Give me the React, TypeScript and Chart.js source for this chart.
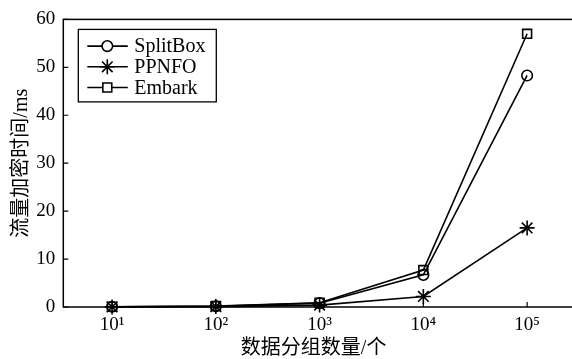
import React, { useEffect, useRef } from "react";
import { Chart, registerables } from "chart.js";

Chart.register(...registerables);

// x values are log10 of the number of data packets
const exponents = [1, 2, 3, 4, 5];
const tickLabels = ["10¹", "10²", "10³", "10⁴", "10⁵"];
const seriesNames = ["SplitBox", "PPNFO", "Embark"];
const splitBox = [0.05, 0.15, 0.8, 6.7, 48.3];
const ppnfo = [0.02, 0.08, 0.4, 2.2, 16.5];
const embark = [0.06, 0.2, 0.9, 7.7, 57.0];
const yTicks = [0, 10, 20, 30, 40, 50, 60];
const xTitle = "数据分组数量/个";
const yTitle = "流量加密时间/ms";

const SERIF = '"Liberation Serif", "Times New Roman", serif';
const CJK = '"Liberation Serif", "Noto Sans CJK SC", sans-serif';

const framePlugin = {
  id: "frame",
  beforeDatasetsDraw(chart: any) {
    const { ctx, chartArea } = chart;
    const { left, right, top, bottom } = chartArea;
    ctx.save();
    ctx.strokeStyle = "#000";
    ctx.lineWidth = 1.5;
    ctx.strokeRect(left, top, right - left, bottom - top);
    ctx.lineWidth = 1.2;
    const xs = chart.scales.x;
    const ys = chart.scales.y;
    ctx.beginPath();
    xs.ticks.forEach((t: any) => {
      const px = xs.getPixelForValue(t.value);
      ctx.moveTo(px, bottom);
      ctx.lineTo(px, bottom - 5);
    });
    ys.ticks.forEach((t: any) => {
      const py = ys.getPixelForValue(t.value);
      ctx.moveTo(left, py);
      ctx.lineTo(left + 5, py);
    });
    ctx.stroke();
    ctx.restore();
  },
};

function drawMarker(ctx: CanvasRenderingContext2D, style: string, r: number, x: number, y: number) {
  ctx.save();
  ctx.strokeStyle = "#000";
  ctx.lineWidth = 1.6;
  ctx.fillStyle = "#fff";
  ctx.beginPath();
  if (style === "circle") {
    ctx.arc(x, y, r, 0, Math.PI * 2);
    ctx.fill();
    ctx.stroke();
  } else if (style === "rect") {
    const s = Math.SQRT1_2 * r;
    ctx.rect(x - s, y - s, 2 * s, 2 * s);
    ctx.fill();
    ctx.stroke();
  } else {
    for (let k = 0; k < 4; k++) {
      const a = (k * Math.PI) / 4;
      ctx.moveTo(x - Math.cos(a) * r, y - Math.sin(a) * r);
      ctx.lineTo(x + Math.cos(a) * r, y + Math.sin(a) * r);
    }
    ctx.stroke();
  }
  ctx.restore();
}

const legendPlugin = {
  id: "boxLegend",
  afterDraw(chart: any) {
    const { ctx, chartArea } = chart;
    const bx = chartArea.left + 15;
    const by = chartArea.top + 10;
    const bw = 138;
    const bh = 72.5;
    ctx.save();
    ctx.fillStyle = "#fff";
    ctx.fillRect(bx, by, bw, bh);
    ctx.strokeStyle = "#000";
    ctx.lineWidth = 1.3;
    ctx.strokeRect(bx, by, bw, bh);
    chart.data.datasets.forEach((ds: any, i: number) => {
      const y = by + 16.7 + i * 20.7;
      ctx.strokeStyle = "#000";
      ctx.lineWidth = 1.6;
      ctx.beginPath();
      ctx.moveTo(bx + 9, y);
      ctx.lineTo(bx + 49.5, y);
      ctx.stroke();
      drawMarker(ctx, ds.pointStyle, ds.pointRadius, bx + 29, y);
      ctx.fillStyle = "#000";
      ctx.font = `20px ${SERIF}`;
      ctx.textBaseline = "middle";
      ctx.textAlign = "left";
      ctx.fillText(ds.label, bx + 56, y + 1);
    });
    ctx.restore();
  },
};

export default function App() {
  const ref = useRef<HTMLCanvasElement>(null);

  useEffect(() => {
    if (!ref.current) return;
    const mk = (label: string, vals: number[], style: string, radius: number) => ({
      label,
      data: exponents.map((e, i) => ({ x: e, y: vals[i] })),
      borderColor: "#000",
      borderWidth: 1.6,
      pointStyle: style,
      pointRadius: radius,
      pointBorderWidth: 1.6,
      pointBorderColor: "#000",
      pointBackgroundColor: "rgba(255,255,255,0)",
      tension: 0,
      clip: false as any,
    });
    const chart = new Chart(ref.current, {
      type: "line",
      data: {
        datasets: [
          mk(seriesNames[0], splitBox, "circle", 5.3),
          mk(seriesNames[1], ppnfo, "star", 7.5),
          mk(seriesNames[2], embark, "rect", 6.3),
        ],
      },
      options: {
        responsive: false,
        animation: false,
        layout: { padding: { left: 0, right: 21, top: 19, bottom: 0 } },
        plugins: { legend: { display: false }, tooltip: { enabled: false } },
        scales: {
          x: {
            type: "linear",
            min: 0.53,
            max: 5.5,
            afterBuildTicks(scale: any) {
              scale.ticks = exponents.map((v) => ({ value: v }));
            },
            afterFit(scale: any) {
              scale.height = 52;
            },
            grid: { display: false, drawTicks: false },
            border: { display: false },
            ticks: {
              color: "#000",
              padding: 7,
              maxRotation: 0,
              font: { family: SERIF, size: 19 },
              callback: (v: any) => {
                const i = exponents.indexOf(Number(v));
                return i >= 0 ? tickLabels[i] : "";
              },
            },
            title: {
              display: true,
              text: xTitle + "   ",
              color: "#000",
              font: { family: CJK, size: 20, lineHeight: 1 },
              padding: { top: 0, bottom: 0 },
            },
          },
          y: {
            type: "linear",
            min: 0,
            max: 60,
            afterBuildTicks(scale: any) {
              scale.ticks = yTicks.map((v) => ({ value: v }));
            },
            afterFit(scale: any) {
              scale.width = 63.3;
            },
            grid: { display: false, drawTicks: false },
            border: { display: false },
            ticks: {
              color: "#000",
              padding: 8,
              font: { family: SERIF, size: 19 },
            },
            title: {
              display: true,
              text: yTitle,
              color: "#000",
              font: { family: CJK, size: 20, lineHeight: 1 },
              padding: { top: 12, bottom: 0 },
            },
          },
        },
      },
      plugins: [framePlugin, legendPlugin],
    });
    return () => chart.destroy();
  }, []);

  return (
    <div
      style={{
        position: "fixed",
        left: 0,
        top: 0,
        width: 572,
        height: 359,
        overflow: "hidden",
        background: "#fff",
      }}
    >
      <canvas ref={ref} width={600} height={359} style={{ display: "block" }} />
    </div>
  );
}
